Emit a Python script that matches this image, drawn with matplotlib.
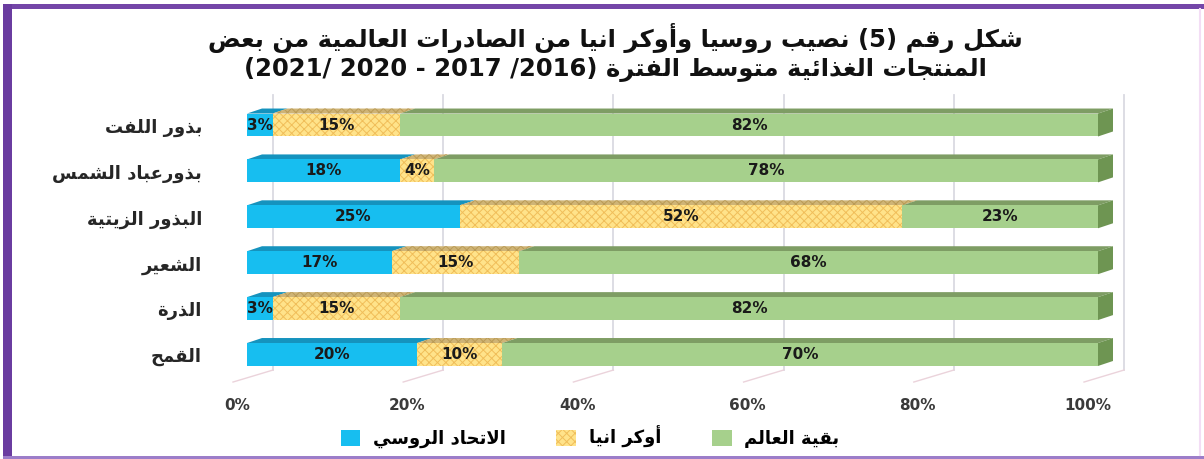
import re
import matplotlib
matplotlib.use("Agg")
import matplotlib.pyplot as plt
from matplotlib.patches import Polygon, Rectangle, Patch
from matplotlib.lines import Line2D

# ---------------- data ----------------
categories = ["القمح", "الذرة", "الشعير", "البذور الزيتية", "بذورعباد الشمس", "بذور اللفت"]
russia = [20, 3, 17, 25, 18, 3]
ukraine = [10, 15, 15, 52, 4, 15]
rest = [70, 82, 68, 23, 78, 82]
series_names = ["الاتحاد الروسي", "أوكر انيا", "بقية العالم"]
xticks = [0, 20, 40, 60, 80, 100]
xtick_labels = ["0%", "20%", "40%", "60%", "80%", "100%"]
title_line1 = "شكل رقم (5) نصيب روسيا وأوكر انيا من الصادرات العالمية من بعض"
title_line2 = "المنتجات الغذائية متوسط الفترة (2016/ 2017 - 2020 /2021)"

# ---------------- minimal Arabic shaping ----------------
FORMS = {
    'ء': (0xFE80, 1), 'آ': (0xFE81, 2), 'أ': (0xFE83, 2), 'ؤ': (0xFE85, 2),
    'إ': (0xFE87, 2), 'ئ': (0xFE89, 4), 'ا': (0xFE8D, 2), 'ب': (0xFE8F, 4),
    'ة': (0xFE93, 2), 'ت': (0xFE95, 4), 'ث': (0xFE99, 4), 'ج': (0xFE9D, 4),
    'ح': (0xFEA1, 4), 'خ': (0xFEA5, 4), 'د': (0xFEA9, 2), 'ذ': (0xFEAB, 2),
    'ر': (0xFEAD, 2), 'ز': (0xFEAF, 2), 'س': (0xFEB1, 4), 'ش': (0xFEB5, 4),
    'ص': (0xFEB9, 4), 'ض': (0xFEBD, 4), 'ط': (0xFEC1, 4), 'ظ': (0xFEC5, 4),
    'ع': (0xFEC9, 4), 'غ': (0xFECD, 4), 'ف': (0xFED1, 4), 'ق': (0xFED5, 4),
    'ك': (0xFED9, 4), 'ل': (0xFEDD, 4), 'م': (0xFEE1, 4), 'ن': (0xFEE5, 4),
    'ه': (0xFEE9, 4), 'و': (0xFEED, 2), 'ى': (0xFEEF, 2), 'ي': (0xFEF1, 4),
}
LAM_ALEF = {'آ': 0xFEF5, 'أ': 0xFEF7, 'إ': 0xFEF9, 'ا': 0xFEFB}


def shape(s):
    out = []
    i = 0
    while i < len(s):
        c = s[i]
        if c in FORMS:
            prev = s[i - 1] if i > 0 else ''
            jp = prev in FORMS and FORMS[prev][1] == 4
            if c == 'ل' and i + 1 < len(s) and s[i + 1] in LAM_ALEF:
                out.append(chr(LAM_ALEF[s[i + 1]] + (1 if jp else 0)))
                i += 2
                continue
            nxt = s[i + 1] if i + 1 < len(s) else ''
            base, n = FORMS[c]
            jn = n == 4 and nxt in FORMS and nxt != 'ء'
            if n == 1:
                idx = 0
            elif n == 2:
                idx = 1 if jp else 0
            else:
                idx = {(False, False): 0, (True, False): 1,
                       (False, True): 2, (True, True): 3}[(jp, jn)]
            out.append(chr(base + idx))
        else:
            out.append(c)
        i += 1
    return ''.join(out)


def rtl(s):
    v = shape(s)[::-1]
    v = v.translate(str.maketrans({'(': ')', ')': '('}))
    v = re.sub(r'[0-9]+', lambda m: m.group(0)[::-1], v)
    return v


# ---------------- figure ----------------
W, H = 1204, 459
fig = plt.figure(figsize=(W / 100, H / 100), dpi=100)
fig.patch.set_facecolor("white")

FONT = "DejaVu Sans"

# purple frame (thick left/top, thin bottom, faint right)
frame = fig.add_axes([0, 0, 1, 1])
frame.set_xlim(0, W)
frame.set_ylim(H, 0)
frame.axis("off")
frame.add_patch(Rectangle((3, 4), W - 3, 4.5, color="#7446A8", lw=0))
frame.add_patch(Rectangle((3, 4), 9, 455, color="#6A3CA0", lw=0))
frame.add_patch(Rectangle((3, 455.5), W - 3, 3.5, color="#9C7DC9", lw=0))
frame.add_line(Line2D([1200, 1200], [9, 455], color="#F3DDF5", lw=1.5))

# main axes: x in percent, y in row index
px_per_pct = 851 / 100.0
row_px = 45.9
y0_px = 354.5
ylo, yhi = -0.6, 5.6
bot_px = y0_px - ylo * row_px
top_px = y0_px - yhi * row_px
ax = fig.add_axes([247 / W, 1 - bot_px / H, 851 / W, (bot_px - top_px) / H])
ax.set_xlim(0, 100)
ax.set_ylim(ylo, yhi)
ax.axis("off")


def px2x(p):
    return p / px_per_pct


def px2y(p):
    return p / row_px


# back-wall gridlines and floor lines
wall_dx = px2x(26)
floor_front_dx = px2x(-14)
floor_back_dy = px2y(12)
for t in xticks:
    ax.plot([t + wall_dx, t + wall_dx], [ylo + floor_back_dy, (y0_px - 95) / row_px],
            color="#DADAE2", lw=1.3, zorder=0, clip_on=False)
    ax.plot([t + floor_front_dx, t + wall_dx], [ylo, ylo + floor_back_dy],
            color="#EBD3DB", lw=1.0, zorder=0, clip_on=False)

# bars
y = list(range(len(categories)))
bar_h = 0.5
dx = px2x(15)
dy = px2y(5)
colors = {
    "ru": ("#17BEF0", "#1593BE"),
    "ua": ("#FFE38A", "#CFB476"),
    "rw": ("#A6D08C", "#7E9D64"),
}
plt.rcParams["hatch.linewidth"] = 0.7

for yi, r, u, g in zip(y, russia, ukraine, rest):
    segs = [(0, r, "ru"), (r, u, "ua"), (r + u, g, "rw")]
    for left, width, key in segs:
        face, top = colors[key]
        if key == "ua":
            ax.barh(yi, width, left=left, height=bar_h, color=face, hatch="xxxx",
                    edgecolor="#F0BE5A", lw=0, zorder=3)
        else:
            ax.barh(yi, width, left=left, height=bar_h, color=face, lw=0, zorder=3)
        ytop = yi + bar_h / 2
        ax.add_patch(Polygon([(left, ytop), (left + width, ytop),
                              (left + width + dx, ytop + dy), (left + dx, ytop + dy)],
                             closed=True, facecolor=top, lw=0, zorder=2, clip_on=False,
                             hatch=("xxxx" if key == "ua" else None),
                             edgecolor=("#B99A55" if key == "ua" else top)))
        if key == "rw":
            xr = left + width
            ax.add_patch(Polygon([(xr, yi - bar_h / 2), (xr, ytop), (xr + dx, ytop + dy),
                                  (xr + dx, yi - bar_h / 2 + dy)],
                                 closed=True, facecolor="#6E9552", lw=0, zorder=2,
                                 clip_on=False))
        ax.text(left + width / 2, yi, f"{width}%", ha="center", va="center",
                fontsize=11, fontweight="bold", color="#1A1A1A", family=FONT, zorder=5)

# category labels
for yi, c in zip(y, categories):
    ax.text(px2x(202 - 247), yi - 0.06, rtl(c), ha="right", va="center", fontsize=13,
            fontweight="bold", color="#262626", family=FONT, clip_on=False)

# x tick labels
for t, lab in zip(xticks, xtick_labels):
    ax.text(t + px2x(-10), (y0_px - 405) / row_px, lab, ha="center", va="center",
            fontsize=11, fontweight="bold", color="#3A3A3A", family=FONT, clip_on=False)

# title
fig.text(615 / W, 1 - 38 / H, rtl(title_line1), ha="center", va="center",
         fontsize=17.5, fontweight="bold", color="#111111", family=FONT)
fig.text(615 / W, 1 - 70 / H, rtl(title_line2), ha="center", va="center",
         fontsize=17.5, fontweight="bold", color="#111111", family=FONT)

# legend (visual order left->right: Russia, Ukraine, Rest of world)
handles = [
    Patch(facecolor=colors["ru"][0], lw=0),
    Patch(facecolor=colors["ua"][0], hatch="xxxx", edgecolor="#F0BE5A", lw=0),
    Patch(facecolor=colors["rw"][0], lw=0),
]
labels = [rtl(series_names[0]), rtl(series_names[1]), rtl(series_names[2])]
fig.legend(handles, labels, loc="center", bbox_to_anchor=(590 / W, 1 - 437 / H), ncol=3,
           frameon=False, markerfirst=True, handlelength=1.1, handleheight=1.0,
           columnspacing=2.8, handletextpad=0.7,
           prop={"family": FONT, "weight": "bold", "size": 13})

fig.savefig("out.png", dpi=100, facecolor="white")
